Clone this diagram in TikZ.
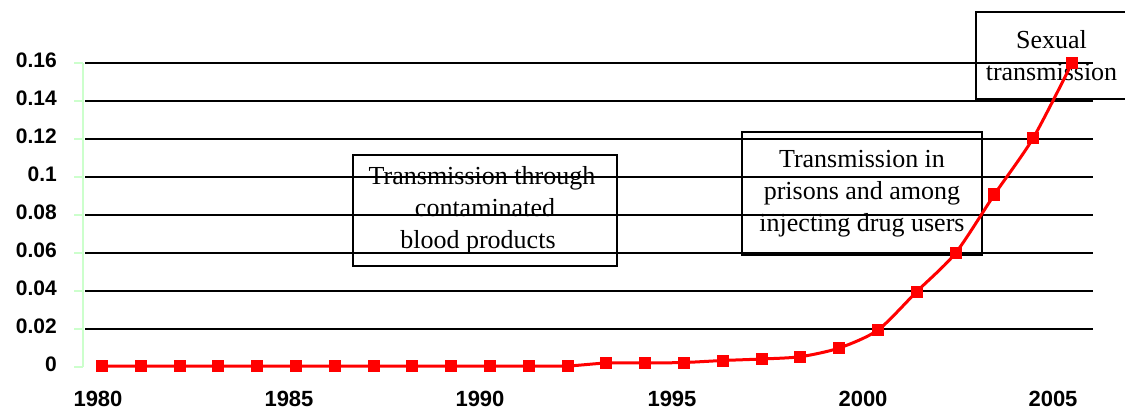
\documentclass[tikz,border=0pt]{standalone}
\usepackage{fontspec}
\setmainfont{Liberation Serif}
\setsansfont{Liberation Sans}
\definecolor{axisgreen}{RGB}{204,255,204}

\begin{document}
\begin{tikzpicture}[x=1pt, y=-1pt,
    gridline/.style={black, line width=2pt},
    axisline/.style={axisgreen, line width=1.6pt},
    ylabel/.style={anchor=east, inner sep=0, font=\sffamily\bfseries\fontsize{21}{25}\selectfont},
    xlabel/.style={inner sep=0, font=\sffamily\bfseries\fontsize{22}{26}\selectfont},
    textbox/.style={draw, line width=2.2pt, align=center, inner sep=0, font=\fontsize{26}{32}\selectfont},
    redline/.style={red, line width=3pt},
    marker/.style={fill=red, inner sep=0, minimum size=12pt}]
  \useasboundingbox (0,0) rectangle (1125,409);
  \fill[white] (0,0) rectangle (1125,409);

  % grid
  \draw[gridline] (85,63) -- (1093,63);
  \draw[gridline] (85,101) -- (1093,101);
  \draw[gridline] (85,139) -- (1093,139);
  \draw[gridline] (85,177) -- (1093,177);
  \draw[gridline] (85,215) -- (1093,215);
  \draw[gridline] (85,253) -- (1093,253);
  \draw[gridline] (85,291) -- (1093,291);
  \draw[gridline] (85,329) -- (1093,329);

  % y axis
  \draw[axisline] (83,63) -- (83,367);
  \foreach \py in {63,101,139,177,215,253,291,329,367}
    \draw[axisline] (74,\py) -- (83,\py);

  \node[ylabel] (y16) at (57,60) {0.16};
  \node[ylabel] (y14) at (57,98) {0.14};
  \node[ylabel] (y12) at (57,136) {0.12};
  \node[ylabel] (y10) at (57,174) {0.1};
  \node[ylabel] (y08) at (57,212) {0.08};
  \node[ylabel] (y06) at (57,250) {0.06};
  \node[ylabel] (y04) at (57,288) {0.04};
  \node[ylabel] (y02) at (57,326) {0.02};
  \node[ylabel] (y00) at (57,364) {0};

  \node[xlabel] (x1980) at (98,399) {1980};
  \node[xlabel] (x1985) at (289,399) {1985};
  \node[xlabel] (x1990) at (480,399) {1990};
  \node[xlabel] (x1995) at (672,399) {1995};
  \node[xlabel] (x2000) at (863,399) {2000};
  \node[xlabel] (x2005) at (1053,399) {2005};

  % periods
  \node[textbox, minimum width=264pt, minimum height=111pt] (blood) at (485,210.5)
    {Transmission through\hspace*{6pt}\\contaminated\hspace*{26pt}\\blood products\hspace*{14pt}};
  \node[textbox, minimum width=240pt, minimum height=123pt] (prisons) at (862,193.5)
    {Transmission in\\prisons and among\\injecting drug users};
  \node[textbox, minimum width=151pt, minimum height=87pt] (sexual) at (1051.5,55.5)
    {Sexual\\transmission};

  % curve
  \foreach \k/\py in {0/366,1/366,2/366,3/366,4/366,5/366,6/366,7/366,8/366,9/366,10/366,11/366,
      12/366,13/363,14/363,15/362.5,16/360.5,17/359,18/356.7,19/348,20/330,21/291.5,22/253,
      23/194.5,24/138,25/63}
    \coordinate (p\k) at ({102+38.8*\k},\py);
  \draw[redline] plot[smooth, tension=0.45] coordinates {(p0) (p1) (p2) (p3) (p4) (p5) (p6)
    (p7) (p8) (p9) (p10) (p11) (p12) (p13) (p14) (p15) (p16) (p17) (p18) (p19) (p20) (p21)
    (p22) (p23) (p24) (p25)};
  \foreach \k in {0,...,25}
    \node[marker] (m\k) at (p\k) {};
\end{tikzpicture}
\end{document}
